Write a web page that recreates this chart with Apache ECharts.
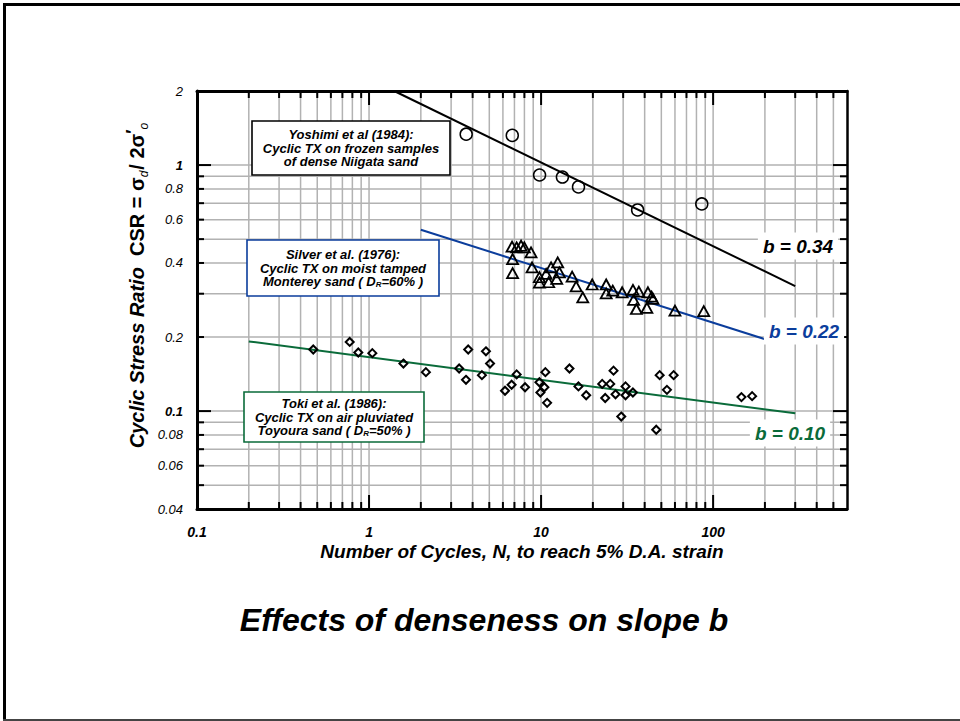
<!DOCTYPE html>
<html>
<head>
<meta charset="utf-8">
<script src="https://cdn.jsdelivr.net/npm/echarts@6.0.0/dist/echarts.min.js"></script>
<style>html,body{margin:0;padding:0;background:#fff}#c{width:960px;height:721px}</style>
</head>
<body>
<div id="c"></div>
<script>
// ---------- data ----------
const X_MIN = 0.1, X_MAX = 600;
const Y_MIN = 0.04, Y_MAX = 2;

const xGridValues = [0.2,0.3,0.4,0.5,0.6,0.7,0.8,0.9,1,2,3,4,5,6,7,8,9,10,20,30,40,50,60,70,80,90,100,200,300,400,500];
const xMajorValues = [1, 10, 100];
const yGridValues = [0.05,0.06,0.07,0.08,0.09,0.1,0.2,0.3,0.4,0.5,0.6,0.7,0.8,0.9,1];
const yMajorValues = [0.1, 1];

const xTickLabels = [0.1, 1, 10, 100];
const yTickLabels = [2, 1, 0.8, 0.6, 0.4, 0.2, 0.1, 0.08, 0.06, 0.04];
const yBoldLabels = [1, 0.1];

// Yoshimi et al (1984) - circles
const yoshimiPoints = [[3.67,1.335],[6.8,1.32],[9.8,0.911],[13.3,0.894],[16.5,0.815],[36.4,0.657],[85.9,0.695]];
// Silver et al (1976) - triangles
const silverPoints = [[6.78,0.466],[7.21,0.463],[7.65,0.470],[7.99,0.463],[8.74,0.442],[6.83,0.415],[6.83,0.364],
  [8.86,0.384],[9.78,0.350],[9.78,0.333],[10.7,0.361],[11.07,0.334],[11.43,0.384],[12.49,0.402],[12.78,0.366],
  [12.33,0.345],[15.15,0.352],[15.99,0.321],[17.47,0.290],[19.82,0.327],[23.9,0.327],[23.9,0.301],[26.1,0.309],
  [29.6,0.304],[34.2,0.311],[37.0,0.306],[34.5,0.283],[35.8,0.260],[41.8,0.304],[43.9,0.292],[44.7,0.286],
  [41.2,0.263],[60.0,0.256],[88.2,0.255]];
// Toki et al (1986) - diamonds
const tokiPoints = [[0.474,0.178],[0.772,0.191],[0.866,0.173],[1.045,0.172],[1.584,0.156],[2.14,0.144],[3.34,0.149],
  [3.66,0.134],[3.77,0.178],[4.53,0.140],[4.78,0.175],[5.05,0.156],[6.17,0.121],[6.74,0.128],[7.21,0.141],
  [8.07,0.125],[9.78,0.131],[9.91,0.119],[10.45,0.125],[10.59,0.144],[10.84,0.108],[14.62,0.149],[16.49,0.126],
  [18.29,0.116],[22.66,0.129],[23.59,0.113],[25.23,0.129],[26.37,0.146],[27.08,0.117],[29.24,0.095],[30.97,0.126],
  [30.97,0.116],[34.17,0.119],[46.7,0.084],[48.9,0.140],[53.9,0.122],[58.96,0.140],[146.1,0.114],[168.5,0.115]];

// fitted trend lines (end points)
const yoshimiLine = [[1.4, 2.0],[300, 0.322]];
const silverLine = [[2, 0.546],[200, 0.196]];
const tokiLine = [[0.2, 0.192],[300, 0.098]];

// ---------- styles ----------
const FONT = '"Liberation Sans", Arial, Helvetica, sans-serif';
const BLUE = '#0b3d9c';
const GREEN = '#0a6b3a';
const GRID_GRAY = '#b2b2b2';

function isIn(arr, v){ return arr.some(a => Math.abs(a - v) < 1e-9); }

function renderXGrid(params, api){
  const v = api.value(0);
  const b = api.coord([v, Y_MIN]);
  const t = api.coord([v, Y_MAX]);
  const tl = isIn(xMajorValues, v) ? 14 : 7;
  return {type:'group', children:[
    {type:'line', shape:{x1:b[0],y1:b[1],x2:t[0],y2:t[1]}, style:{stroke:GRID_GRAY, lineWidth:1.5}},
    {type:'line', shape:{x1:b[0],y1:b[1],x2:b[0],y2:b[1]-tl}, style:{stroke:'#000', lineWidth:2}},
    {type:'line', shape:{x1:t[0],y1:t[1],x2:t[0],y2:t[1]+tl}, style:{stroke:'#000', lineWidth:2}}
  ]};
}
function renderYGrid(params, api){
  const v = api.value(1);
  const l = api.coord([X_MIN, v]);
  const r = api.coord([X_MAX, v]);
  const tl = isIn(yMajorValues, v) ? 14 : 7;
  return {type:'group', children:[
    {type:'line', shape:{x1:l[0],y1:l[1],x2:r[0],y2:r[1]}, style:{stroke:GRID_GRAY, lineWidth:1.5}},
    {type:'line', shape:{x1:l[0],y1:l[1],x2:l[0]+tl,y2:l[1]}, style:{stroke:'#000', lineWidth:2}},
    {type:'line', shape:{x1:r[0],y1:r[1],x2:r[0]-tl,y2:r[1]}, style:{stroke:'#000', lineWidth:2}}
  ]};
}
function renderXLabel(params, api){
  const v = api.value(0);
  const p = api.coord([v, Y_MIN]);
  return {type:'text', x:p[0], y:p[1]+23, style:{text:String(v), fill:'#000',
    font:'italic bold 14px ' + FONT, align:'center', verticalAlign:'middle', textAlign:'center', textVerticalAlign:'middle'}};
}
function renderYLabel(params, api){
  const v = api.value(1);
  const p = api.coord([X_MIN, v]);
  const bold = isIn(yBoldLabels, v);
  return {type:'text', x:p[0]-14, y:p[1], style:{text:String(v), fill:'#000',
    font:'italic ' + (bold ? 'bold ' : '') + '13px ' + FONT, align:'right', verticalAlign:'middle', textAlign:'right', textVerticalAlign:'middle'}};
}

const base = {fontFamily: FONT, fontStyle:'italic', fontWeight:'bold', fontSize:13};
function boxText(x, y, text){
  return {type:'text', x:x, y:y, z:101,
    style:{text:text, fill:'#000', align:'center', verticalAlign:'middle', textAlign:'center', textVerticalAlign:'middle',
      fontFamily:FONT, fontStyle:'italic', fontWeight:'bold', fontSize:13, lineHeight:13.5,
      rich:{
        m:Object.assign({}, base, {lineHeight:13.5}),
        s:Object.assign({}, base, {fontSize:8, lineHeight:13.5, verticalAlign:'bottom', padding:[4,0,0,0]})
      }}};
}
function boxRect(x, y, w, h, color){
  return {type:'rect', z:100, shape:{x:x, y:y, width:w, height:h}, style:{fill:'#fff', stroke:color, lineWidth:1.6}};
}
function bLabel(x, y, text, color){
  return {type:'text', x:x, y:y, z:100,
    style:{text:text, fill:color, font:'italic bold 19px ' + FONT, align:'center', verticalAlign:'middle',
      textAlign:'center', textVerticalAlign:'middle', backgroundColor:'#fff', padding:[4,5,4,5]}};
}

const chart = echarts.init(document.getElementById('c'), null, {renderer:'svg'});

const option = {
  animation:false,
  backgroundColor:'#fff',
  grid:{left:197, right:113, top:91, bottom:212, containLabel:false},
  xAxis:[
    {type:'log', logBase:10, min:X_MIN, max:X_MAX, position:'bottom', z:10,
      axisLine:{show:true, onZero:false, lineStyle:{color:'#000', width:3}},
      axisTick:{show:false}, axisLabel:{show:false}, splitLine:{show:false}},
    {type:'log', logBase:10, min:X_MIN, max:X_MAX, position:'top', z:10,
      axisLine:{show:true, onZero:false, lineStyle:{color:'#000', width:3}},
      axisTick:{show:false}, axisLabel:{show:false}, splitLine:{show:false}}
  ],
  yAxis:[
    {type:'log', logBase:10, min:Y_MIN, max:Y_MAX, position:'left', z:10,
      axisLine:{show:true, onZero:false, lineStyle:{color:'#000', width:3}},
      axisTick:{show:false}, axisLabel:{show:false}, splitLine:{show:false}},
    {type:'log', logBase:10, min:Y_MIN, max:Y_MAX, position:'right', z:10,
      axisLine:{show:true, onZero:false, lineStyle:{color:'#000', width:2.5}},
      axisTick:{show:false}, axisLabel:{show:false}, splitLine:{show:false}}
  ],
  series:[
    {type:'custom', name:'xgrid', silent:true, z:1, renderItem:renderXGrid, encode:{x:0,y:1},
      data:xGridValues.map(v => [v, Y_MIN])},
    {type:'custom', name:'ygrid', silent:true, z:1, renderItem:renderYGrid, encode:{x:0,y:1},
      data:yGridValues.map(v => [X_MIN, v])},
    {type:'custom', name:'xlabels', silent:true, z:5, renderItem:renderXLabel, encode:{x:0,y:1},
      data:xTickLabels.map(v => [v, Y_MIN])},
    {type:'custom', name:'ylabels', silent:true, z:5, renderItem:renderYLabel, encode:{x:0,y:1},
      data:yTickLabels.map(v => [X_MIN, v])},
    {type:'line', name:'Yoshimi fit', data:yoshimiLine, symbol:'none', z:3, silent:true,
      lineStyle:{color:'#000', width:2}},
    {type:'line', name:'Silver fit', data:silverLine, symbol:'none', z:3, silent:true,
      lineStyle:{color:BLUE, width:2}},
    {type:'line', name:'Toki fit', data:tokiLine, symbol:'none', z:3, silent:true,
      lineStyle:{color:GREEN, width:2}},
    {type:'scatter', name:'Yoshimi', data:yoshimiPoints, symbol:'circle', symbolSize:12, z:4, silent:true,
      itemStyle:{color:'rgba(0,0,0,0)', borderColor:'#000', borderWidth:1.5, opacity:1}},
    {type:'scatter', name:'Silver', data:silverPoints, symbol:'triangle', symbolSize:[11,10], z:4, silent:true,
      itemStyle:{color:'rgba(0,0,0,0)', borderColor:'#000', borderWidth:1.8, opacity:1}},
    {type:'scatter', name:'Toki', data:tokiPoints, symbol:'diamond', symbolSize:[8,8], z:4, silent:true,
      itemStyle:{color:'rgba(0,0,0,0)', borderColor:'#000', borderWidth:2, opacity:1}}
  ],
  graphic:[
    // slide frame
    {type:'line', z:200, shape:{x1:3, y1:4.5, x2:960, y2:4.5}, style:{stroke:'#000', lineWidth:3}},
    {type:'line', z:200, shape:{x1:4.5, y1:3, x2:4.5, y2:721}, style:{stroke:'#000', lineWidth:3}},
    {type:'line', z:200, shape:{x1:3, y1:720, x2:960, y2:720}, style:{stroke:'#444', lineWidth:2}},
    // annotation boxes
    boxRect(252, 121, 198, 54, '#000'),
    boxText(351, 148, '{m|Yoshimi et al (1984):}\n{m|Cyclic TX on frozen samples}\n{m|of dense Niigata sand}'),
    boxRect(247, 240, 192, 56, BLUE),
    boxText(343, 268, '{m|Silver et al. (1976):}\n{m|Cyclic TX on moist tamped}\n{m|Monterey sand ( D}{s|R}{m|=60% )}'),
    boxRect(244, 392, 180, 50, GREEN),
    boxText(334, 417, '{m|Toki et al. (1986):}\n{m|Cyclic TX on air pluviated}\n{m|Toyoura sand ( D}{s|R}{m|=50% )}'),
    // slope labels
    bLabel(798, 246, 'b = 0.34', '#000'),
    bLabel(804, 331, 'b = 0.22', BLUE),
    bLabel(790, 433, 'b = 0.10', GREEN),
    // y axis title
    {type:'text', x:137, y:285, rotation:Math.PI/2, z:100,
      style:{text:'{i|Cyclic Stress Ratio  }{u|CSR = σ}{sub|d}{u|/ 2σ}{sup|\u2032}{sub|o}',
        align:'center', verticalAlign:'middle', textAlign:'center', textVerticalAlign:'middle',
        rich:{
          i:{fontFamily:FONT, fontStyle:'italic', fontWeight:'bold', fontSize:20, lineHeight:30, fill:'#000', color:'#000'},
          u:{fontFamily:FONT, fontWeight:'bold', fontSize:20, lineHeight:30, fill:'#000', color:'#000'},
          sub:{fontFamily:FONT, fontStyle:'italic', fontSize:12, lineHeight:12, verticalAlign:'bottom', fill:'#000', color:'#000', padding:[0,1,2,0]},
          sup:{fontFamily:FONT, fontWeight:'bold', fontSize:18, lineHeight:18, verticalAlign:'top', fill:'#000', color:'#000', padding:[2,0,0,0]}
        }}},
    // x axis title
    {type:'text', x:522, y:551, z:100,
      style:{text:'Number of Cycles, N, to reach 5% D.A. strain', fill:'#000', font:'italic bold 19px ' + FONT,
        align:'center', verticalAlign:'middle', textAlign:'center', textVerticalAlign:'middle'}},
    // slide title
    {type:'text', x:484, y:620, z:100,
      style:{text:'Effects of denseness on slope b', fill:'#000', font:'italic bold 32px ' + FONT,
        align:'center', verticalAlign:'middle', textAlign:'center', textVerticalAlign:'middle'}}
  ]
};
chart.setOption(option);
</script>
</body>
</html>
